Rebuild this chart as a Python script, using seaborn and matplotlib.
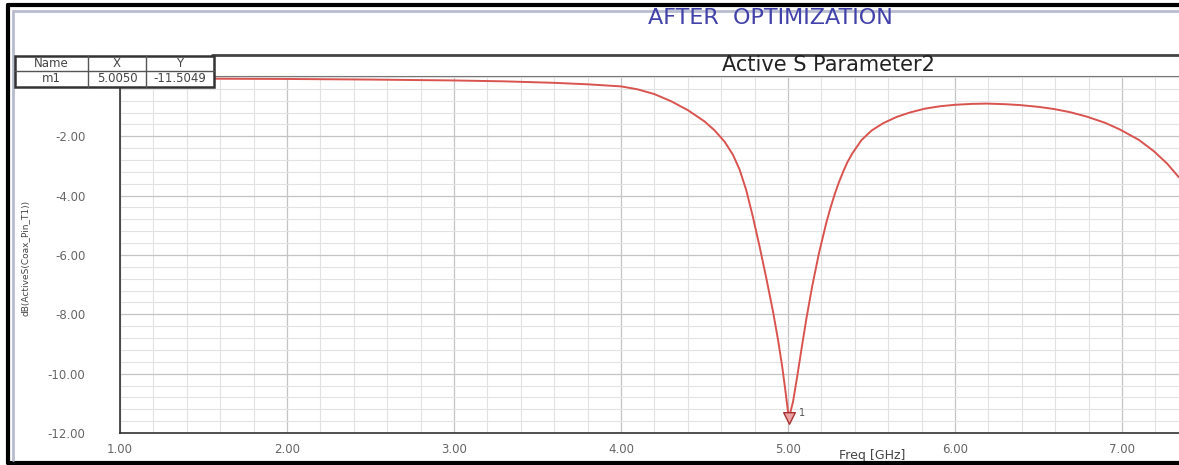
import numpy as np
import pandas as pd
import matplotlib.pyplot as plt
import seaborn as sns
from matplotlib.patches import Rectangle
from matplotlib.lines import Line2D
from matplotlib.ticker import MultipleLocator, FormatStrFormatter

# values
freq_ghz = [1.0, 1.5, 2.0, 2.5, 3.0, 3.3, 3.6, 3.8, 4.0, 4.1, 4.2, 4.3, 4.4, 4.5,
            4.56, 4.62, 4.67, 4.71, 4.75, 4.79, 4.83, 4.87, 4.91, 4.94, 4.965,
            4.985, 5.005, 5.03, 5.055, 5.08, 5.11, 5.145, 5.185, 5.23, 5.255,
            5.28, 5.305, 5.33, 5.355, 5.385, 5.44, 5.5, 5.57, 5.65, 5.73, 5.82,
            5.91, 6.0, 6.1, 6.19, 6.3, 6.39, 6.5, 6.59, 6.69, 6.79, 6.9, 6.99,
            7.1, 7.19, 7.27, 7.34]
s11_db = [-0.05, -0.06, -0.07, -0.09, -0.12, -0.15, -0.2, -0.25, -0.32, -0.42,
          -0.58, -0.82, -1.12, -1.5, -1.8, -2.18, -2.62, -3.12, -3.82, -4.72,
          -5.72, -6.78, -7.9, -8.85, -9.75, -10.6, -11.5049, -10.95, -10.1, -9.2,
          -8.15, -7.05, -5.95, -4.9, -4.4, -3.95, -3.55, -3.2, -2.88, -2.58, -2.13,
          -1.81, -1.56, -1.35, -1.2, -1.07, -0.99, -0.94, -0.91, -0.9, -0.92, -0.95,
          -1.01, -1.08, -1.19, -1.34, -1.55, -1.78, -2.12, -2.5, -2.92, -3.38]
marker_freq = [5.005]
marker_db = [-11.5049]
y_ticks = [-12, -10, -8, -6, -4, -2]
table_header = ['Name', 'X', 'Y']
table_row = ['m1', '5.0050', '-11.5049']

sns.set_style('white')
plt.rcParams['font.family'] = ['DejaVu Sans']

W, H = 1179, 465
fig = plt.figure(figsize=(W / 100, H / 100), dpi=100)
fig.patch.set_facecolor('white')

def fx(px):
    return px / W

def fy(py):
    return 1 - py / H

ax = fig.add_axes([fx(120), fy(433), (W - 120) / W, (433 - 76) / H])

df = pd.DataFrame({'freq': freq_ghz, 'db': s11_db})
sns.lineplot(data=df, x='freq', y='db', color='#d9534f', lw=1.4, ax=ax, zorder=3)
ax.scatter(marker_freq, marker_db, marker='v', s=70, facecolor='#e9a3a3',
           edgecolor='#a83030', lw=1, zorder=4)
ax.annotate('1', (marker_freq[0], marker_db[0]), xytext=(7, 2),
            textcoords='offset points', fontsize=7, color='#555')

ax.set_xlim(1.0, 1.0 + (W - 120) / 167)
ax.set_ylim(-12, 0.03)
ax.set_yticks(y_ticks)
ax.xaxis.set_major_locator(MultipleLocator(1))
ax.xaxis.set_minor_locator(MultipleLocator(0.2))
ax.yaxis.set_minor_locator(MultipleLocator(0.4))
ax.xaxis.set_major_formatter(FormatStrFormatter('%.2f'))
ax.yaxis.set_major_formatter(FormatStrFormatter('%.2f'))

ax.grid(which='major', color='#c4c4c4', lw=0.9)
ax.grid(which='minor', color='#e2e2e2', lw=0.8)

ax.tick_params(axis='y', which='major', length=20, width=1, direction='out',
               colors='#444', labelcolor='#666', labelsize=8.5, pad=5)
ax.tick_params(axis='y', which='minor', length=10, width=0.8, direction='out', colors='#444')
ax.tick_params(axis='x', which='major', length=8, width=1, direction='inout',
               colors='#444', labelcolor='#666', labelsize=8.5, pad=3)
ax.tick_params(axis='x', which='minor', length=3, width=1, direction='inout', colors='#444')

ax.spines['right'].set_visible(False)
ax.spines['top'].set_color('#777')
ax.spines['left'].set_color('#333')
ax.spines['bottom'].set_color('#333')
ax.spines['left'].set_linewidth(1.2)
ax.spines['bottom'].set_linewidth(1.2)

ax.set_xlabel('Freq [GHz]', fontsize=9, color='#444', va='center')
ax.xaxis.set_label_coords((872 - 120) / (W - 120), -(455 - 433) / (433 - 76))
ax.set_ylabel('dB(ActiveS(Coax_Pin_T1))', fontsize=6.5, color='#444')
ax.yaxis.set_label_coords((30 - 120) / (W - 120), (433 - 258) / (433 - 76))

# outer window frame
fig.add_artist(Line2D([fx(8), 1], [fy(5), fy(5)], color='black', lw=3))
fig.add_artist(Line2D([fx(8), fx(8)], [fy(5), fy(463)], color='black', lw=3))
fig.add_artist(Line2D([fx(8), 1], [fy(463), fy(463)], color='black', lw=3))
fig.add_artist(Line2D([fx(13), 1], [fy(11), fy(11)], color='#b8bccf', lw=2))
fig.add_artist(Line2D([fx(13), fx(13)], [fy(11), fy(460)], color='#b8bccf', lw=2))

fig.text(fx(770), fy(18), 'AFTER  OPTIMIZATION', color='#4242aa', fontsize=16,
         ha='center', va='center')

# plot header band
fig.add_artist(Line2D([fx(212), 1], [fy(55), fy(55)], color='#444', lw=2))
fig.text(fx(828), fy(65), 'Active S Parameter2', color='#222', fontsize=15,
         ha='center', va='center')

# marker table
cols = [15, 88, 146, 214]
rows = [56, 71, 87]
fig.add_artist(Rectangle((fx(cols[0]), fy(rows[2])), fx(cols[3] - cols[0]),
                         (rows[2] - rows[0]) / H, facecolor='white',
                         edgecolor='#333', lw=1.8, zorder=10))
fig.add_artist(Line2D([fx(cols[0]), fx(cols[3])], [fy(rows[1]), fy(rows[1])],
                      color='#555', lw=1, zorder=11))
for c in cols[1:3]:
    fig.add_artist(Line2D([fx(c), fx(c)], [fy(rows[0]), fy(rows[2])],
                          color='#555', lw=1, zorder=11))
for i in range(3):
    cx = (cols[i] + cols[i + 1]) / 2
    fig.text(fx(cx), fy((rows[0] + rows[1]) / 2), table_header[i], fontsize=8.5,
             color='#444', ha='center', va='center', zorder=12)
    fig.text(fx(cx), fy((rows[1] + rows[2]) / 2), table_row[i], fontsize=8.5,
             color='#444', ha='center', va='center', zorder=12)

fig.savefig('out.png', dpi=100)
